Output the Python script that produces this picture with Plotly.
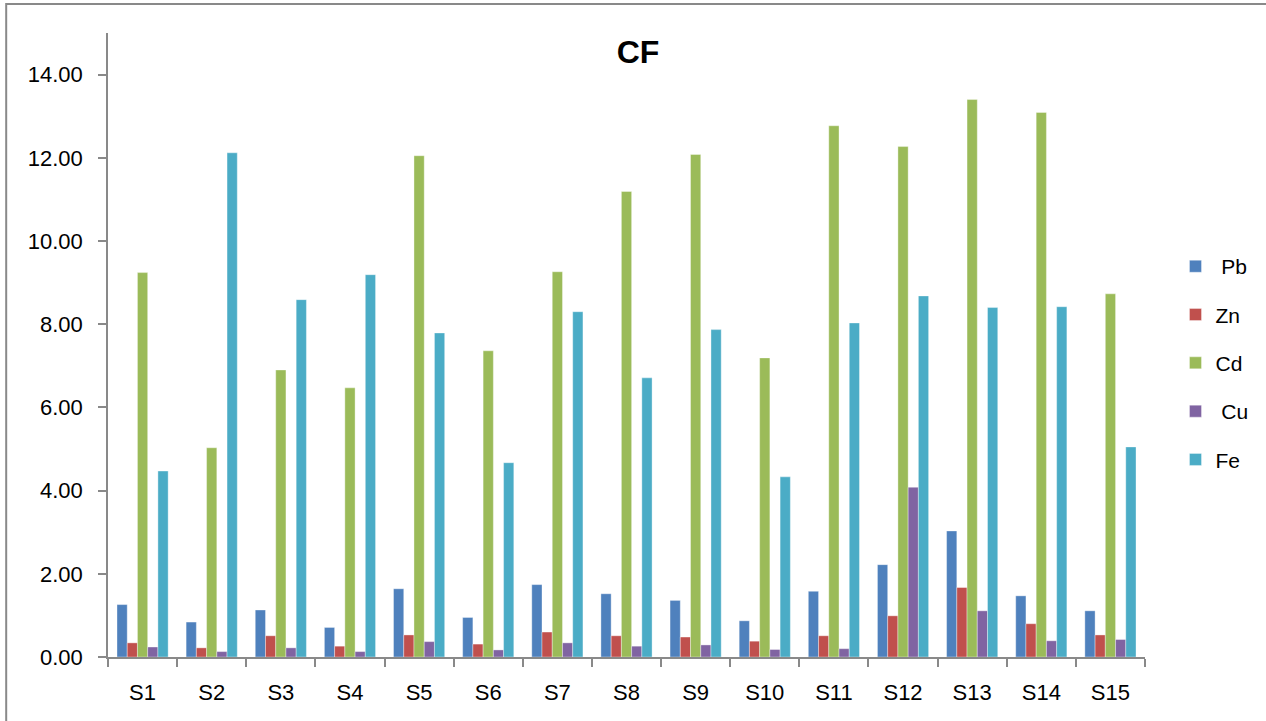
import plotly.graph_objects as go

categories = ["S1", "S2", "S3", "S4", "S5", "S6", "S7", "S8", "S9", "S10", "S11", "S12", "S13", "S14", "S15"]
pb = [1.26, 0.84, 1.13, 0.71, 1.64, 0.95, 1.74, 1.52, 1.36, 0.87, 1.58, 2.22, 3.03, 1.47, 1.11]
zn = [0.34, 0.22, 0.51, 0.26, 0.53, 0.31, 0.60, 0.51, 0.48, 0.38, 0.51, 0.99, 1.67, 0.80, 0.53]
cd = [9.24, 5.03, 6.90, 6.47, 12.05, 7.36, 9.26, 11.19, 12.08, 7.19, 12.77, 12.27, 13.40, 13.09, 8.73]
cu = [0.24, 0.13, 0.22, 0.13, 0.37, 0.17, 0.34, 0.26, 0.29, 0.18, 0.20, 4.08, 1.11, 0.39, 0.42]
fe = [4.47, 12.12, 8.59, 9.19, 7.79, 4.67, 8.30, 6.71, 7.87, 4.33, 8.03, 8.68, 8.40, 8.42, 5.05]
series_names = [" Pb", "Zn", "Cd", " Cu", "Fe"]
series_values = [pb, zn, cd, cu, fe]
colors = ["#4F81BD", "#C0504D", "#9BBB59", "#8064A2", "#4BACC6"]
y_ticks = [0, 2, 4, 6, 8, 10, 12, 14]
y_tick_labels = ["0.00", "2.00", "4.00", "6.00", "8.00", "10.00", "12.00", "14.00"]

fig = go.Figure()
for name, vals, col in zip(series_names, series_values, colors):
    fig.add_trace(go.Bar(
        x=categories, y=vals, name=name, legendgroup=name,
        marker=dict(color=col, line=dict(color="rgba(255,255,255,0.6)", width=0.6)),
    ))

axis_col = "#898989"
font_family = "Liberation Sans, Arial, sans-serif"

fig.update_layout(
    width=1266, height=721,
    margin=dict(l=108, r=119, t=33, b=64),
    paper_bgcolor="white", plot_bgcolor="white",
    barmode="group", bargap=0.26, bargroupgap=0,
    font=dict(family=font_family, color="black"),
    title=dict(text="<b>CF</b>", x=0.504, xref="container", xanchor="center",
               y=0.928, yref="container", yanchor="middle",
               font=dict(size=32, family=font_family, color="black")),
    legend=dict(x=1.0294, xanchor="left", y=0.471, yanchor="middle",
                font=dict(size=21, family=font_family, color="black"),
                tracegroupgap=18, bgcolor="rgba(0,0,0,0)"),
    xaxis=dict(type="category", showgrid=False, showline=True, linecolor=axis_col, linewidth=1.5,
               ticks="outside", tickson="boundaries", ticklen=8, tickcolor=axis_col, tickwidth=1.5,
               tickfont=dict(size=22, family=font_family, color="black"), ticklabelstandoff=15),
    yaxis=dict(range=[0, 15], showgrid=False, showline=True, linecolor=axis_col, linewidth=1.5,
               tickvals=y_ticks, ticktext=y_tick_labels, ticks="outside", ticklen=8,
               tickcolor=axis_col, tickwidth=1.5, zeroline=False,
               tickfont=dict(size=22, family=font_family, color="black"), ticklabelstandoff=11),
    shapes=[dict(type="rect", xref="paper", yref="paper",
                 x0=(6 - 108) / 1039, x1=(1275 - 108) / 1039,
                 y0=(657 - 730) / 624, y1=(657 - 4) / 624,
                 line=dict(color="#898989", width=2), fillcolor="rgba(0,0,0,0)", layer="below")],
)

fig.write_html("out.html", config={"displayModeBar": False},
               post_script="document.body.style.margin='0';")
